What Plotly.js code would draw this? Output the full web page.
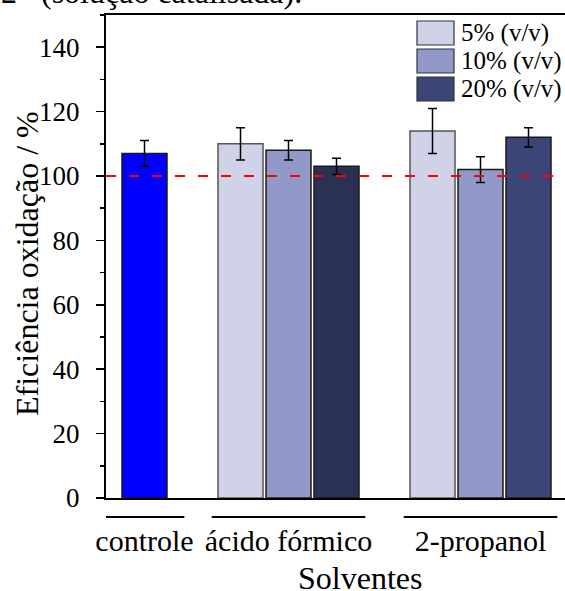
<!DOCTYPE html>
<html>
<head>
<meta charset="utf-8">
<script src="https://cdn.plot.ly/plotly-3.0.1.min.js"></script>
<style>html,body{margin:0;padding:0;background:#fff;}#chart{width:565px;height:591px;}</style>
</head>
<body>
<div id="chart"></div>
<script>
// ---- data ----
const groups = ["controle", "ácido fórmico", "2-propanol"];
const seriesNames = ["5% (v/v)", "10% (v/v)", "20% (v/v)"];
const controlValue = [107];
const controlError = [4];
const values5 = [110, 114];     // ácido fórmico, 2-propanol
const errors5 = [5, 7];
const values10 = [108, 102];
const errors10 = [3, 4];
const values20 = [103, 112];
const errors20 = [2.5, 3];
const referenceLine = 100;
const yTicks = [0, 20, 40, 60, 80, 100, 120, 140];

// ---- layout parameters (positions/styles) ----
const FONT = '"Liberation Serif", "Times New Roman", serif';
const groupCenters = [0, 3, 7];          // slot positions for groups
const barW = 0.9375;
const seriesColors = ["#D0D3E8", "#9299C8", "#3C4578"];
const color20PerGroup = ["#2B3152", "#3C4578"];
const outline = {color: "#1a1a1a", width: 1.5};
const errStyle = {type: "data", visible: true, color: "#000", thickness: 1.5, width: 4.5};

const solventCenters = groupCenters.slice(1);
const traces = [];
traces.push({
  type: "bar", x: [groupCenters[0]], y: controlValue, width: barW,
  marker: {color: "#0000FF", line: outline},
  error_y: Object.assign({array: controlError}, errStyle),
  showlegend: false, hoverinfo: "y"
});
const sv = [values5, values10, values20];
const se = [errors5, errors10, errors20];
for (let s = 0; s < 3; s++) {
  traces.push({
    type: "bar", name: seriesNames[s],
    x: solventCenters.map(c => c + (s - 1)), y: sv[s], width: barW,
    marker: {color: s === 2 ? color20PerGroup : seriesColors[s],
             line: {color: s === 0 ? "#555" : "#1a1a1a", width: 1.5}},
    error_y: Object.assign({array: se[s]}, errStyle),
    showlegend: false
  });
}

const plotL = 106, plotR = 565, plotT = 15, plotB = 498;
const pxPerUnit = 48, originPx = 144.5;
const xRange = [(plotL - originPx) / pxPerUnit, (plotR - originPx) / pxPerUnit];
const py = p => (plotB - p) / (plotB - plotT);
const px = p => (p - plotL) / (plotR - plotL);

const shapes = [];
// reference dashed line
shapes.push({type: "line", xref: "paper", x0: 0, x1: 1, yref: "y", y0: referenceLine, y1: referenceLine,
  line: {color: "#FF0000", width: 2, dash: "10px,13px"}, layer: "above"});
// group brackets under axis
const halfW = [0.83, 1.6, 1.6];
groupCenters.forEach((c, i) => {
  shapes.push({type: "line", xref: "x", x0: c - halfW[i], x1: c + halfW[i], yref: "paper", y0: py(517), y1: py(517),
    line: {color: "#000", width: 2}});
});
// custom legend swatches
const annotations = [];
const rowsTop = [21, 49, 77];
seriesNames.forEach((n, i) => {
  shapes.push({type: "rect", xref: "paper", yref: "paper", x0: px(417), x1: px(454), y0: py(rowsTop[i] + 24), y1: py(rowsTop[i]),
    fillcolor: seriesColors[i], line: {color: "#333", width: 1.2}});
  annotations.push({xref: "paper", yref: "paper", x: px(459), y: py(rowsTop[i] + 12), xanchor: "left", yanchor: "middle",
    text: n, showarrow: false, font: {family: FONT, size: 25, color: "#000"}});
});
annotations.push({xref: "paper", yref: "paper", x: px(360), y: py(578), xanchor: "center", yanchor: "middle",
  text: "Solventes", showarrow: false, font: {family: FONT, size: 32, color: "#000"}});
annotations.push({xref: "paper", yref: "paper", x: px(27), y: py(264), xanchor: "center", yanchor: "middle", textangle: -90,
  text: "Eficiência oxidação / %", showarrow: false, font: {family: FONT, size: 32, color: "#000"}});
// cropped caption at very top
annotations.push({xref: "paper", yref: "paper", x: px(39), y: py(-8), xanchor: "left", yanchor: "middle",
  text: "(solução catalisada).", showarrow: false, font: {family: FONT, size: 32, color: "#000"}});
annotations.push({xref: "paper", yref: "paper", x: px(-1), y: py(-8), xanchor: "left", yanchor: "middle",
  text: "2", showarrow: false, font: {family: FONT, size: 32, color: "#000"}});

const layout = {
  width: 565, height: 591,
  margin: {l: plotL, r: 565 - plotR, t: plotT, b: 591 - plotB, pad: 0},
  paper_bgcolor: "#fff", plot_bgcolor: "#fff",
  font: {family: FONT, color: "#000"},
  showlegend: false,
  bargap: 0,
  xaxis: {
    range: xRange, showgrid: false, zeroline: false,
    tickvals: groupCenters, ticktext: groups,
    ticks: "outside", ticklen: 15, tickcolor: "rgba(0,0,0,0)",
    tickfont: {family: FONT, size: 30, color: "#000"},
    showline: true, linecolor: "#000", linewidth: 2, mirror: true
  },
  yaxis: {
    range: [0, 150], showgrid: false, zeroline: false,
    tickvals: yTicks, ticks: "outside", ticklen: 8, tickwidth: 1.5, tickcolor: "#000",
    ticklabelstandoff: 11,
    minor: {dtick: 10, tick0: 10, ticks: "outside", ticklen: 4, tickwidth: 1.5, tickcolor: "#000"},
    tickfont: {family: FONT, size: 27, color: "#000"},
    showline: true, linecolor: "#000", linewidth: 2, mirror: false
  },
  shapes: shapes,
  annotations: annotations
};

Plotly.newPlot("chart", traces, layout, {staticPlot: true, displayModeBar: false});
</script>
</body>
</html>
